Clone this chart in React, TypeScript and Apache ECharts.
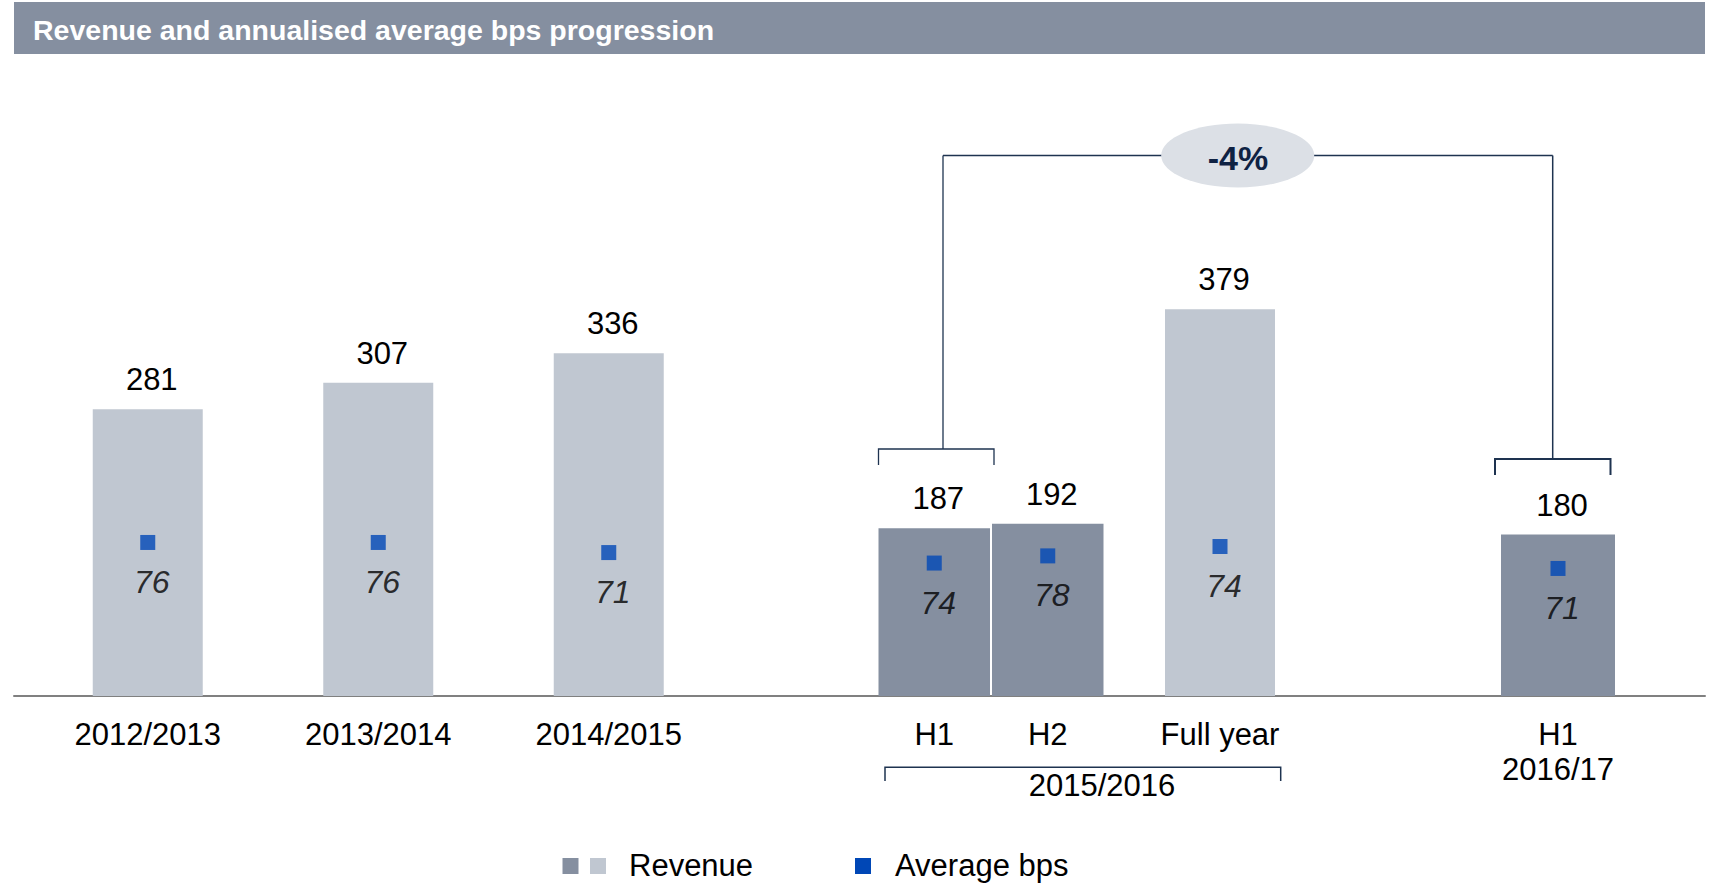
import React, { useEffect, useRef } from "react";
import * as echarts from "echarts";

// ---- data ----
const annualCategories = ["2012/2013", "2013/2014", "2014/2015"];
const annualRevenue = [281, 307, 336];
const annualBps = [76, 76, 71];

const halfCategories = ["H1", "H2"];
const halfRevenue = [187, 192];
const halfBps = [74, 78];

const fullYearCategory = ["Full year"];
const fullYearRevenue = [379];
const fullYearBps = [74];

const latestCategory = ["H1\n2016/17"];
const latestRevenue = [180];
const latestBps = [71];

const groupLabel = "2015/2016";
const changeLabel = "-4%";
const titleText = "Revenue and annualised average bps progression";
const legendNames = ["Revenue", "Average bps"];

// ---- styles ----
const FONT = "'Liberation Sans', Arial, Helvetica, sans-serif";
const DARK = "#858fa0";
const LIGHT = "#c0c7d1";
const BLUE = "#0047b6";
const NAVY = "#1e3350";
const TOP = 96;
const BOTTOM = 188;

export default function App() {
  const ref = useRef<HTMLDivElement>(null);

  useEffect(() => {
    document.body.style.margin = "0";
    if (!ref.current) return;
    const chart = echarts.init(ref.current, undefined, { renderer: "svg" });

    const revLabel = {
      show: true,
      position: "top",
      distance: 14,
      offset: [4, 0],
      fontSize: 31,
      fontFamily: FONT,
      color: "#000",
    };
    const bpsLabel = {
      show: true,
      position: "bottom",
      distance: 16,
      offset: [4, 0],
      fontSize: 32,
      fontStyle: "italic",
      fontFamily: FONT,
      color: "#000",
    };
    const catAxis = (gridIndex: number, data: string[]) => ({
      type: "category",
      gridIndex,
      data,
      axisLine: { show: false },
      axisTick: { show: false },
      axisLabel: {
        fontSize: 31,
        fontFamily: FONT,
        color: "#000",
        margin: 21,
        lineHeight: 35,
        interval: 0,
      },
    });
    const valAxis = (gridIndex: number, max: number) => ({
      type: "value",
      gridIndex,
      min: 0,
      max,
      show: false,
    });

    const bar = (x: number, y: number, data: number[], color: string, width: number) => ({
      type: "bar",
      name: legendNames[0],
      xAxisIndex: x,
      yAxisIndex: y,
      data,
      barWidth: width,
      itemStyle: { color },
      label: revLabel,
      z: 2,
    });
    const bps = (x: number, y: number, data: number[]) => ({
      type: "scatter",
      name: legendNames[1],
      xAxisIndex: x,
      yAxisIndex: y,
      data,
      symbol: "rect",
      symbolSize: 15,
      itemStyle: { color: BLUE },
      label: bpsLabel,
      z: 4,
    });

    const option = {
      animation: false,
      title: {
        text: titleText,
        left: 33,
        top: 15,
        padding: 0,
        textStyle: { color: "#fff", fontSize: 28.5, fontWeight: "bold", fontFamily: FONT },
      },
      grid: [
        { left: 14, right: 9, top: TOP, bottom: BOTTOM },
        { left: 32.5, right: 990, top: TOP, bottom: BOTTOM },
        { left: 877.5, right: 609.5, top: TOP, bottom: BOTTOM },
        { left: 1120, right: 394, top: TOP, bottom: BOTTOM },
        { left: 1458, right: 56, top: TOP, bottom: BOTTOM },
      ],
      xAxis: [
        {
          type: "category",
          gridIndex: 0,
          data: [""],
          axisLine: { show: true, lineStyle: { color: "#808080", width: 2 } },
          axisTick: { show: false },
          axisLabel: { show: false },
        },
        catAxis(1, annualCategories),
        catAxis(2, halfCategories),
        catAxis(3, fullYearCategory),
        catAxis(4, latestCategory),
      ],
      yAxis: [
        valAxis(0, 1),
        valAxis(1, 588),
        valAxis(1, 297),
        valAxis(2, 669),
        valAxis(2, 334),
        valAxis(3, 588),
        valAxis(3, 297),
        valAxis(4, 669),
        valAxis(4, 334),
      ],
      series: [
        bar(1, 1, annualRevenue, LIGHT, 110),
        bps(1, 2, annualBps),
        bar(2, 3, halfRevenue, DARK, 111.5),
        bps(2, 4, halfBps),
        bar(3, 5, fullYearRevenue, LIGHT, 110),
        bps(3, 6, fullYearBps),
        bar(4, 7, latestRevenue, DARK, 114),
        bps(4, 8, latestBps),
      ],
      graphic: [
        // title band
        { type: "rect", shape: { x: 14, y: 2, width: 1691, height: 52 }, style: { fill: DARK }, z: -10 },
        // comparison bracket H1 2015/16
        {
          type: "polyline",
          shape: { points: [[878.5, 465], [878.5, 449], [994, 449], [994, 465]] },
          style: { stroke: NAVY, lineWidth: 1.3, fill: null },
        },
        { type: "line", shape: { x1: 943, y1: 449, x2: 943, y2: 155.5 }, style: { stroke: NAVY, lineWidth: 1.3 } },
        { type: "line", shape: { x1: 943, y1: 155.5, x2: 1552.7, y2: 155.5 }, style: { stroke: NAVY, lineWidth: 1.5 } },
        { type: "line", shape: { x1: 1552.7, y1: 155.5, x2: 1552.7, y2: 459 }, style: { stroke: NAVY, lineWidth: 1.5 } },
        {
          type: "polyline",
          shape: { points: [[1495, 475], [1495, 459], [1610.5, 459], [1610.5, 475]] },
          style: { stroke: NAVY, lineWidth: 2, fill: null },
        },
        { type: "ellipse", shape: { cx: 1237.7, cy: 155.5, rx: 76.5, ry: 32 }, style: { fill: "#dce0e6" }, z: 5 },
        {
          type: "text",
          x: 1238,
          y: 157.5,
          z: 6,
          style: {
            text: changeLabel,
            fontSize: 34,
            fontWeight: "bold",
            fontFamily: FONT,
            fill: "#0f2243",
            align: "center",
            verticalAlign: "middle",
          },
        },
        // group bracket 2015/2016
        {
          type: "polyline",
          shape: { points: [[885, 781], [885, 767.3], [1280.7, 767.3], [1280.7, 781]] },
          style: { stroke: NAVY, lineWidth: 1.5, fill: null },
        },
        {
          type: "text",
          x: 1102,
          y: 785,
          style: {
            text: groupLabel,
            fontSize: 31,
            fontFamily: FONT,
            fill: "#000",
            align: "center",
            verticalAlign: "middle",
          },
        },
        // legend
        { type: "rect", shape: { x: 562.5, y: 858, width: 16, height: 16 }, style: { fill: DARK } },
        { type: "rect", shape: { x: 590, y: 858, width: 16, height: 16 }, style: { fill: LIGHT } },
        {
          type: "text",
          x: 629,
          y: 865,
          style: { text: legendNames[0], fontSize: 31, fontFamily: FONT, fill: "#000", align: "left", verticalAlign: "middle" },
        },
        { type: "rect", shape: { x: 855, y: 858, width: 16, height: 16 }, style: { fill: BLUE } },
        {
          type: "text",
          x: 895,
          y: 865,
          style: { text: legendNames[1], fontSize: 31, fontFamily: FONT, fill: "#000", align: "left", verticalAlign: "middle" },
        },
      ],
    };

    chart.setOption(option as any);
    return () => chart.dispose();
  }, []);

  return <div ref={ref} style={{ width: 1714, height: 884, overflow: "hidden" }} />;
}
